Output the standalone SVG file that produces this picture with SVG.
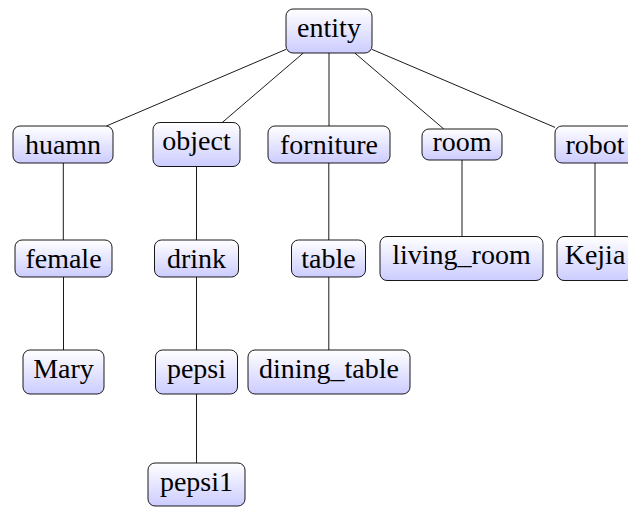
<svg xmlns="http://www.w3.org/2000/svg" width="628" height="507" viewBox="0 0 628 507">
<defs>
<linearGradient id="g" x1="0" y1="0" x2="0" y2="1">
<stop offset="0" stop-color="#ffffff"/>
<stop offset="1" stop-color="#ccccff"/>
</linearGradient>
<style>
.n rect{fill:url(#g);stroke:#000;stroke-width:0.9}
.n text{fill:#000;text-anchor:middle;font-family:'Liberation Serif','Tinos','Noto Serif','DejaVu Serif','FreeSerif','Times',serif;font-size:28px}
#edges line{stroke:#000;stroke-width:0.9}
</style>
</defs>
<rect width="628" height="507" fill="#fff"/>
<g id="edges">
<line x1="286" y1="49.4" x2="106.4" y2="126"/>
<line x1="303.3" y1="53" x2="222.2" y2="122.5"/>
<line x1="329" y1="53" x2="329" y2="126"/>
<line x1="354.8" y1="53" x2="443.8" y2="129"/>
<line x1="372" y1="49.4" x2="555" y2="127.4"/>
<line x1="63.3" y1="163" x2="63.3" y2="240"/>
<line x1="63.5" y1="277" x2="63.5" y2="350"/>
<line x1="196.5" y1="166.5" x2="196.5" y2="240"/>
<line x1="196.5" y1="277" x2="196.5" y2="350"/>
<line x1="196.5" y1="394" x2="196.5" y2="463"/>
<line x1="328.8" y1="163" x2="328.8" y2="240"/>
<line x1="328.8" y1="277" x2="328.8" y2="350"/>
<line x1="462" y1="160" x2="462" y2="236.5"/>
<line x1="595" y1="163" x2="595" y2="236.5"/>
</g>
<g id="entity" class="n"><rect x="286" y="9" width="86" height="44" rx="7"/><text x="329" y="36.5">entity</text></g>
<g id="huamn" class="n"><rect x="13" y="126" width="100" height="37" rx="7"/><text x="63" y="153.5">huamn</text></g>
<g id="object" class="n"><rect x="153" y="122.5" width="87" height="44" rx="7"/><text x="196.5" y="150">object</text></g>
<g id="forniture" class="n"><rect x="268" y="126" width="122" height="37" rx="7"/><text x="329" y="153.5">forniture</text></g>
<g id="room" class="n"><rect x="422" y="129" width="80" height="31" rx="7"/><text x="462" y="150.5">room</text></g>
<g id="robot" class="n"><rect x="555" y="126" width="80" height="37" rx="7"/><text x="595" y="153.5">robot</text></g>
<g id="female" class="n"><rect x="15" y="240" width="97" height="37" rx="7"/><text x="63.5" y="267.5">female</text></g>
<g id="drink" class="n"><rect x="154.5" y="240" width="84" height="37" rx="7"/><text x="196.5" y="267.5">drink</text></g>
<g id="table" class="n"><rect x="291.5" y="240" width="74" height="37" rx="7"/><text x="328.5" y="267.5">table</text></g>
<g id="living_room" class="n"><rect x="380" y="236.5" width="163" height="44" rx="7"/><text x="461.5" y="264">living_room</text></g>
<g id="Kejia" class="n"><rect x="557" y="236.5" width="76" height="44" rx="7"/><text x="595" y="264">Kejia</text></g>
<g id="Mary" class="n"><rect x="23" y="350" width="81" height="44" rx="7"/><text x="63.5" y="377.5">Mary</text></g>
<g id="pepsi" class="n"><rect x="155.5" y="350" width="82" height="44" rx="7"/><text x="196.5" y="377.5">pepsi</text></g>
<g id="dining_table" class="n"><rect x="248" y="350" width="162" height="44" rx="7"/><text x="329" y="377.5">dining_table</text></g>
<g id="pepsi1" class="n"><rect x="148" y="463" width="97" height="43" rx="7"/><text x="196.5" y="490.5">pepsi1</text></g>
</svg>
